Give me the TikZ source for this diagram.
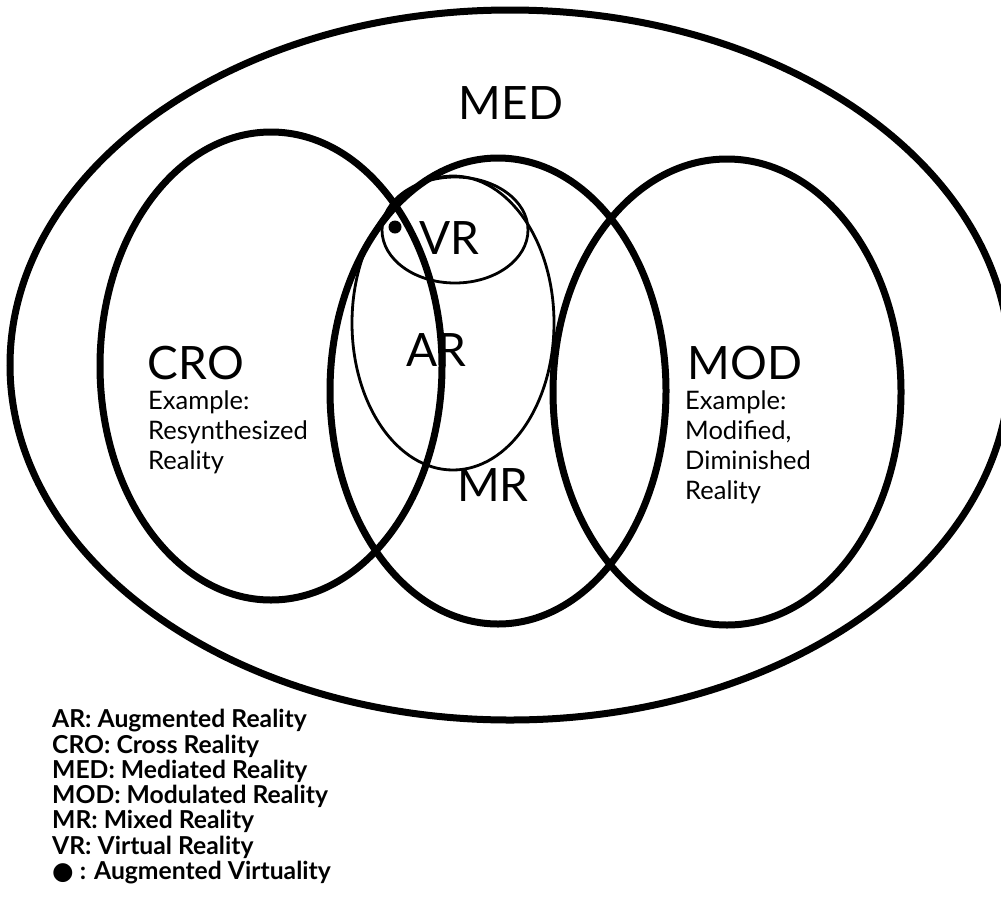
\documentclass[tikz,border=0pt]{standalone}
\usepackage{fontspec}
\setmainfont{Lato}
\newfontfamily\symfont{DejaVu Sans}
\usepackage{tikz}
\usetikzlibrary{positioning}
\newcommand\avdot{{\symfont ●}}
\tikzset{
  setLine/.style={line width=7pt, draw=black},
  subLine/.style={line width=2.8pt, draw=black},
  bigLabel/.style={font=\fontsize{46}{46}\selectfont, inner sep=0pt},
  exampleText/.style={font=\fontsize{25.5}{30}\selectfont, align=left, anchor=north west, inner sep=0pt},
  keyText/.style={font=\bfseries\fontsize{24.7}{25}\selectfont, anchor=west, inner sep=0pt}
}

\begin{document}
\begin{tikzpicture}[x=1pt,y=-1pt]
  \fill[white] (0,0) rectangle (1001,911);
  \useasboundingbox (0,0) rectangle (1001,911);
  \clip (0,0) rectangle (1001,911);
  % sets
  \draw[setLine] (510,365) ellipse [x radius=500, y radius=355];
  \draw[setLine] (271,366) ellipse [x radius=171, y radius=234];
  \draw[setLine] (498,391) ellipse [x radius=168, y radius=233];
  \draw[setLine] (727,392) ellipse [x radius=174, y radius=233];
  \draw[subLine] (453,323) ellipse [x radius=101, y radius=147];
  \draw[subLine] (455,230) ellipse [x radius=73, y radius=53];
  \node[circle, fill=black, inner sep=0pt, minimum size=13pt] (avDot) at (395,227) {};
  % labels
  \node[bigLabel] (medLabel) at (511,103) {MED};
  \node[bigLabel] (vrLabel) at (449,238) {VR};
  \node[bigLabel] (arLabel) at (436,350) {AR};
  \node[bigLabel] (croLabel) at (196,363) {CRO};
  \node[bigLabel] (modLabel) at (745,363) {MOD};
  \node[bigLabel] (mrLabel) at (493,485) {MR};
  \node[exampleText] (croExample) at (148,391) {Example:\\Resynthesized\\Reality};
  \node[exampleText] (modExample) at (685,391) {Example:\\Modified,\\Diminished\\Reality};
  % key
  \foreach \i/\txt in {0/AR: Augmented Reality,1/CRO: Cross Reality,2/MED: Mediated Reality,
    3/MOD: Modulated Reality,4/MR: Mixed Reality,5/VR: Virtual Reality,6/\avdot\ : Augmented Virtuality}
    \node[keyText] (key\i) at (52,{721+25.2*\i}) {\txt};
\end{tikzpicture}
\end{document}
